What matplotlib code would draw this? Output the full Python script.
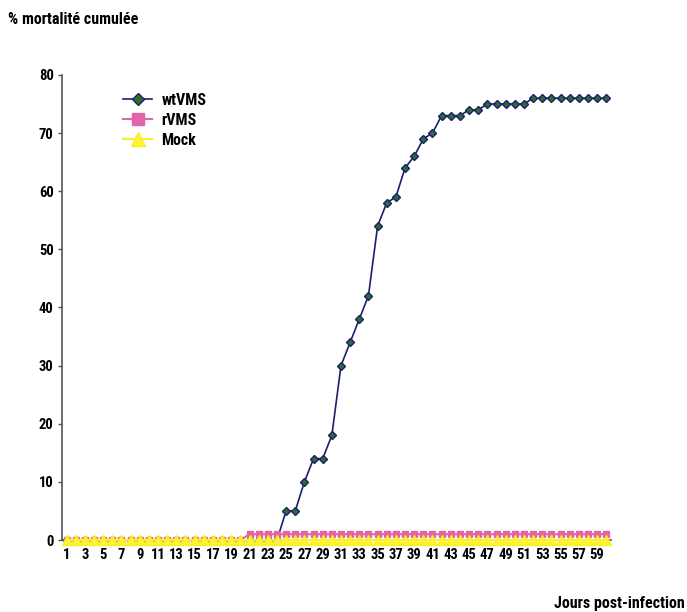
import matplotlib
matplotlib.use("Agg")
import matplotlib.pyplot as plt

plt.rcParams['font.family'] = ['Roboto Condensed', 'DejaVu Sans']
plt.rcParams['font.weight'] = 'bold'

# --- données ---
jours = list(range(1, 61))
wtvms = [0] * 24 + [5, 5, 10, 14, 14, 18, 30, 34, 38, 42, 54, 58, 59, 64, 66, 69, 70,
                    73, 73, 73, 74, 74, 75, 75, 75, 75, 75, 76, 76, 76, 76, 76, 76, 76, 76, 76]
rvms = [0] * 20 + [1] * 40
mock = [0] * 60

fig = plt.figure(figsize=(6.87, 6.12), dpi=100)
ax = fig.add_axes([0.0902, 0.1176, 0.799, 0.76])

l_wt, = ax.plot(jours, wtvms, color='#1c1f6b', lw=1.2, marker='D', ms=4,
                mfc='#2e6b2e', mec='#1c1f6b', mew=1, label='wtVMS', clip_on=False, zorder=2)
l_r, = ax.plot(jours, rvms, color='#e066a8', lw=1.5, marker='s', ms=5,
               mfc='#e066a8', mec='#e066a8', label='rVMS', clip_on=False, zorder=3)
l_m, = ax.plot(jours, mock, color='#f8f020', lw=1.5, marker='^', ms=6.5,
               mfc='#fff23a', mec='#f8f020', label='Mock', clip_on=False, zorder=4)

ax.set_xlim(0.5, 60.5)
ax.set_ylim(0, 80)
ax.set_xticks(jours)
ax.set_xticklabels([str(j) if j % 2 == 1 else '' for j in jours])
ax.set_yticks(range(0, 81, 10))

for s in ['top', 'right']:
    ax.spines[s].set_visible(False)
for s in ['left', 'bottom']:
    ax.spines[s].set_color('#555555')
    ax.spines[s].set_linewidth(1.2)
ax.tick_params(axis='both', direction='out', length=3, width=1, color='#555555',
               labelsize=10.5, pad=3)

ax.legend([l_wt, l_r, l_m], ['wtVMS', 'rVMS', 'Mock'], loc='upper left',
          bbox_to_anchor=(0.1, 0.975), frameon=False, fontsize=11.5, markerscale=1.6,
          handlelength=1.8, handletextpad=0.6, labelspacing=0.3, borderaxespad=0)

fig.text(0.012, 0.968, '% mortalité cumulée', fontsize=11.5, fontweight='bold',
         va='center', ha='left')
fig.text(0.997, 0.014, 'Jours post-infection', fontsize=11.5, fontweight='bold',
         va='center', ha='right')

fig.savefig('out.png', dpi=100)
